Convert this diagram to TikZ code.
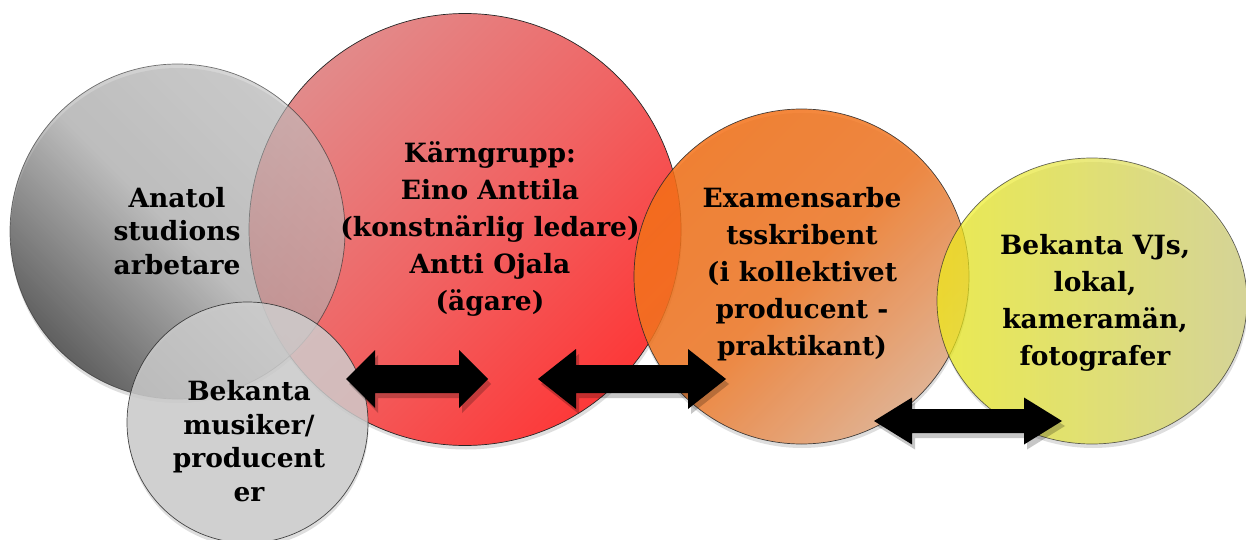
\documentclass[tikz,border=0pt]{standalone}
\usepackage{fontspec}
\setmainfont{DejaVu Serif}
\usetikzlibrary{shapes.geometric}
\definecolor{redA}{RGB}{226,138,138}
\definecolor{redM}{RGB}{240,100,100}
\definecolor{redB}{RGB}{253,56,56}
\definecolor{greyA}{RGB}{190,190,190}
\definecolor{greyM}{RGB}{170,170,170}
\definecolor{greyB}{RGB}{20,20,20}
\definecolor{orA}{RGB}{243,112,22}
\definecolor{orM}{RGB}{240,120,38}
\definecolor{orB}{RGB}{226,170,132}
\definecolor{yeA}{RGB}{240,240,22}
\definecolor{yeB}{RGB}{210,208,122}
\definecolor{smallG}{RGB}{206,206,206}
\newcommand\dblarrow[6]{%
  \fill[arrowshadow] ({#1+3},{#3+5}) -- ({#1+#4+3},{#3-#5+5}) -- ({#1+#4+3},{#3-#6+5}) -- ({#2-#4+3},{#3-#6+5}) -- ({#2-#4+3},{#3-#5+5}) -- ({#2+3},{#3+5}) -- ({#2-#4+3},{#3+#5+5}) -- ({#2-#4+3},{#3+#6+5}) -- ({#1+#4+3},{#3+#6+5}) -- ({#1+#4+3},{#3+#5+5}) -- cycle;
  \fill[arrowfill] (#1,#3) -- ({#1+#4},{#3-#5}) -- ({#1+#4},{#3-#6}) -- ({#2-#4},{#3-#6}) -- ({#2-#4},{#3-#5}) -- (#2,#3) -- ({#2-#4},{#3+#5}) -- ({#2-#4},{#3+#6}) -- ({#1+#4},{#3+#6}) -- ({#1+#4},{#3+#5}) -- cycle;}
\begin{document}
\begin{tikzpicture}[x=1pt,y=-1pt,
  circ/.style={circle, inner sep=0pt, draw=black!85, line width=0.7pt},
  shadowc/.style={fill=black, fill opacity=0.13, draw=none},
  lbl/.style={align=center, font=\bfseries\fontsize{26.5}{37}\selectfont, text=black, inner sep=0pt},
  lblt/.style={align=center, font=\bfseries\fontsize{26.5}{33.5}\selectfont, text=black, inner sep=0pt},
  arrowfill/.style={fill=black},
  arrowshadow/.style={fill=black, fill opacity=0.22}]
\useasboundingbox (0,0) rectangle (1246,540);
% shadows
\fill[shadowc] (466,233.5) circle [radius=216pt];
\fill[shadowc] (178,235.5) circle [radius=167.5pt];
\fill[shadowc] (802,280.5) circle [radius=167.5pt];
\fill[shadowc] (1093,305) ellipse [x radius=155pt, y radius=143pt];
\fill[shadowc] (248,426.5) circle [radius=120.5pt];
% circles
\node[circ, minimum size=432pt, top color=redA, bottom color=redB, middle color=redM, shading angle=45] (red) at (465,229.5) {};
\node[circ, minimum size=335pt, top color=greyA, bottom color=greyB, middle color=greyM, shading angle=-45, opacity=0.62] (grey) at (177.5,231.5) {};
\node[circ, minimum size=335pt, top color=orA, bottom color=orB, middle color=orM, shading angle=45, opacity=0.85] (orange) at (801.5,276.5) {};
\node[circ, ellipse, minimum width=310pt, minimum height=286pt, left color=yeA, right color=yeB, opacity=0.7] (yellow) at (1092,301) {};
\node[circ, minimum size=241pt, fill=smallG, opacity=0.83] (small) at (247.5,422.5) {};
% arrows
\coordinate (a1) at (346,379);
\dblarrow{346}{488}{379}{29}{29}{14}
\coordinate (a2) at (538,379);
\dblarrow{538}{726}{379}{38}{30}{14}
\coordinate (a3) at (874,421);
\dblarrow{874}{1062}{421}{38}{23.5}{12}
% labels
\node[lblt] (tAnatol) at (177,231) {Anatol\\studions\\arbetare};
\node[lbl] (tKarn) at (490,229) {Kärngrupp:\\Eino Anttila\\(konstnärlig ledare)\\Antti Ojala\\(ägare)};
\node[lblt] (tBek) at (249,441) {Bekanta\\musiker/\\producent\\er};
\node[lbl] (tExam) at (802,274) {Examensarbe\\tsskribent\\(i kollektivet\\producent -\\praktikant)};
\node[lbl] (tVJ) at (1095,303) {Bekanta VJs,\\lokal,\\kameramän,\\fotografer};
\end{tikzpicture}
\end{document}
